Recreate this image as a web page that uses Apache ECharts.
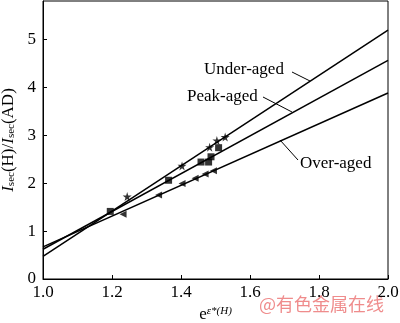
<!DOCTYPE html>
<html>
<head>
<meta charset="utf-8">
<script src="https://cdn.jsdelivr.net/npm/echarts@6/dist/echarts.min.js"></script>
<style>
  html, body { margin: 0; padding: 0; background: #fff; }
  #chart { width: 400px; height: 323px; }
</style>
</head>
<body>
<div id="chart"></div>
<script>
// Fitted lines, evaluated at the two ends of the strain axis
const fitX = [1.0, 2.0];
const underFit = [0.47, 5.19];
const peakFit = [0.62, 4.56];
const overFit = [0.67, 3.88];

// Measured points: strain factor and current ratio
const underX = [1.244, 1.403, 1.483, 1.504, 1.528];
const underY = [1.72, 2.36, 2.75, 2.89, 2.96];
const peakX = [1.195, 1.364, 1.458, 1.480, 1.487, 1.509];
const peakY = [1.41, 2.06, 2.44, 2.44, 2.55, 2.74];
const overX = [1.232, 1.335, 1.403, 1.441, 1.470, 1.494];
const overY = [1.35, 1.75, 1.99, 2.10, 2.19, 2.26];

const seriesNames = ['Under-aged', 'Peak-aged', 'Over-aged'];

const SERIF = "'Liberation Serif', 'Times New Roman', serif";
const pairs = (xs, ys) => xs.map((x, i) => [x, ys[i]]);
const STAR = 'path://M50,0 L61,35 L98,35 L68,57 L79,91 L50,70 L21,91 L32,57 L2,35 L39,35 Z';

const fitLine = (name, ys) => ({
  name: name,
  type: 'line',
  data: pairs(fitX, ys),
  symbol: 'none',
  lineStyle: { color: '#000', width: 1.5 },
  silent: true,
  z: 3
});

const chart = echarts.init(document.getElementById('chart'), null, { renderer: 'canvas' });

chart.setOption({
  animation: false,
  backgroundColor: '#fff',
  grid: {
    left: 43, right: 12, top: 1, bottom: 44,
    outerBoundsMode: 'none',
    show: true, borderColor: '#000', borderWidth: 1
  },
  xAxis: {
    type: 'value',
    min: 1.0, max: 2.0, interval: 0.2,
    axisLine: { lineStyle: { color: '#000', width: 1 } },
    axisTick: { inside: true, length: 4, lineStyle: { color: '#000' } },
    splitLine: { show: false },
    axisLabel: {
      color: '#000', fontFamily: SERIF, fontSize: 17, margin: 5,
      formatter: v => v.toFixed(1)
    },
    name: 'e{sup|ε*(H)}',
    nameLocation: 'middle',
    nameGap: 16,
    nameTextStyle: {
      color: '#000', fontFamily: SERIF, fontSize: 17,
      rich: {
        sup: { fontFamily: SERIF, fontSize: 11, fontStyle: 'italic', color: '#000', verticalAlign: 'top', padding: [0, 0, 6, 0] }
      }
    }
  },
  yAxis: {
    type: 'value',
    min: 0, max: 5.8, interval: 1,
    axisLine: { lineStyle: { color: '#000', width: 1 } },
    axisTick: { inside: true, length: 4, lineStyle: { color: '#000' } },
    splitLine: { show: false },
    axisLabel: {
      color: '#000', fontFamily: SERIF, fontSize: 17, margin: 7,
      showMaxLabel: false,
      formatter: v => (Number.isInteger(v) ? String(v) : '')
    },
    name: '{i|I}{s|sec}(H)/{i|I}{s|sec}(AD)',
    nameLocation: 'middle',
    nameRotate: 90,
    nameGap: 17,
    nameTextStyle: {
      color: '#000', fontFamily: SERIF, fontSize: 17,
      rich: {
        i: { fontFamily: SERIF, fontSize: 17, fontStyle: 'italic', color: '#000' },
        s: { fontFamily: SERIF, fontSize: 11, color: '#000', verticalAlign: 'bottom', padding: [6, 0, 0, 0] }
      }
    }
  },
  series: [
    fitLine(seriesNames[0], underFit),
    fitLine(seriesNames[1], peakFit),
    fitLine(seriesNames[2], overFit),
    {
      name: seriesNames[0] + ' data', type: 'scatter',
      data: pairs(underX, underY),
      symbol: STAR, symbolSize: 9,
      itemStyle: { color: '#000' }, z: 4
    },
    {
      name: seriesNames[1] + ' data', type: 'scatter',
      data: pairs(peakX, peakY),
      symbol: 'rect', symbolSize: 7,
      itemStyle: { color: '#000' }, z: 4
    },
    {
      name: seriesNames[2] + ' data', type: 'scatter',
      data: pairs(overX, overY),
      symbol: 'triangle', symbolSize: 7, symbolRotate: 90,
      itemStyle: { color: '#000' }, z: 4
    }
  ],
  graphic: [
    // curve labels with short leader lines
    { type: 'text', left: 204, top: 61, style: { text: seriesNames[0], font: '17px ' + SERIF, fill: '#000' } },
    { type: 'line', shape: { x1: 292, y1: 72, x2: 310, y2: 81 }, style: { stroke: '#000', lineWidth: 1 } },
    { type: 'text', left: 187, top: 88, style: { text: seriesNames[1], font: '17px ' + SERIF, fill: '#000' } },
    { type: 'line', shape: { x1: 263, y1: 97, x2: 292, y2: 112 }, style: { stroke: '#000', lineWidth: 1 } },
    { type: 'text', left: 300, top: 155, style: { text: seriesNames[2], font: '17px ' + SERIF, fill: '#000' } },
    { type: 'line', shape: { x1: 280, y1: 140, x2: 298, y2: 160 }, style: { stroke: '#000', lineWidth: 1 } },
    // source mark
    { type: 'text', left: 259, top: 295, style: { text: '@有色金属在线', font: "18px 'Noto Sans CJK SC', sans-serif", fill: 'rgba(236,120,120,0.85)' } }
  ]
});
</script>
</body>
</html>
